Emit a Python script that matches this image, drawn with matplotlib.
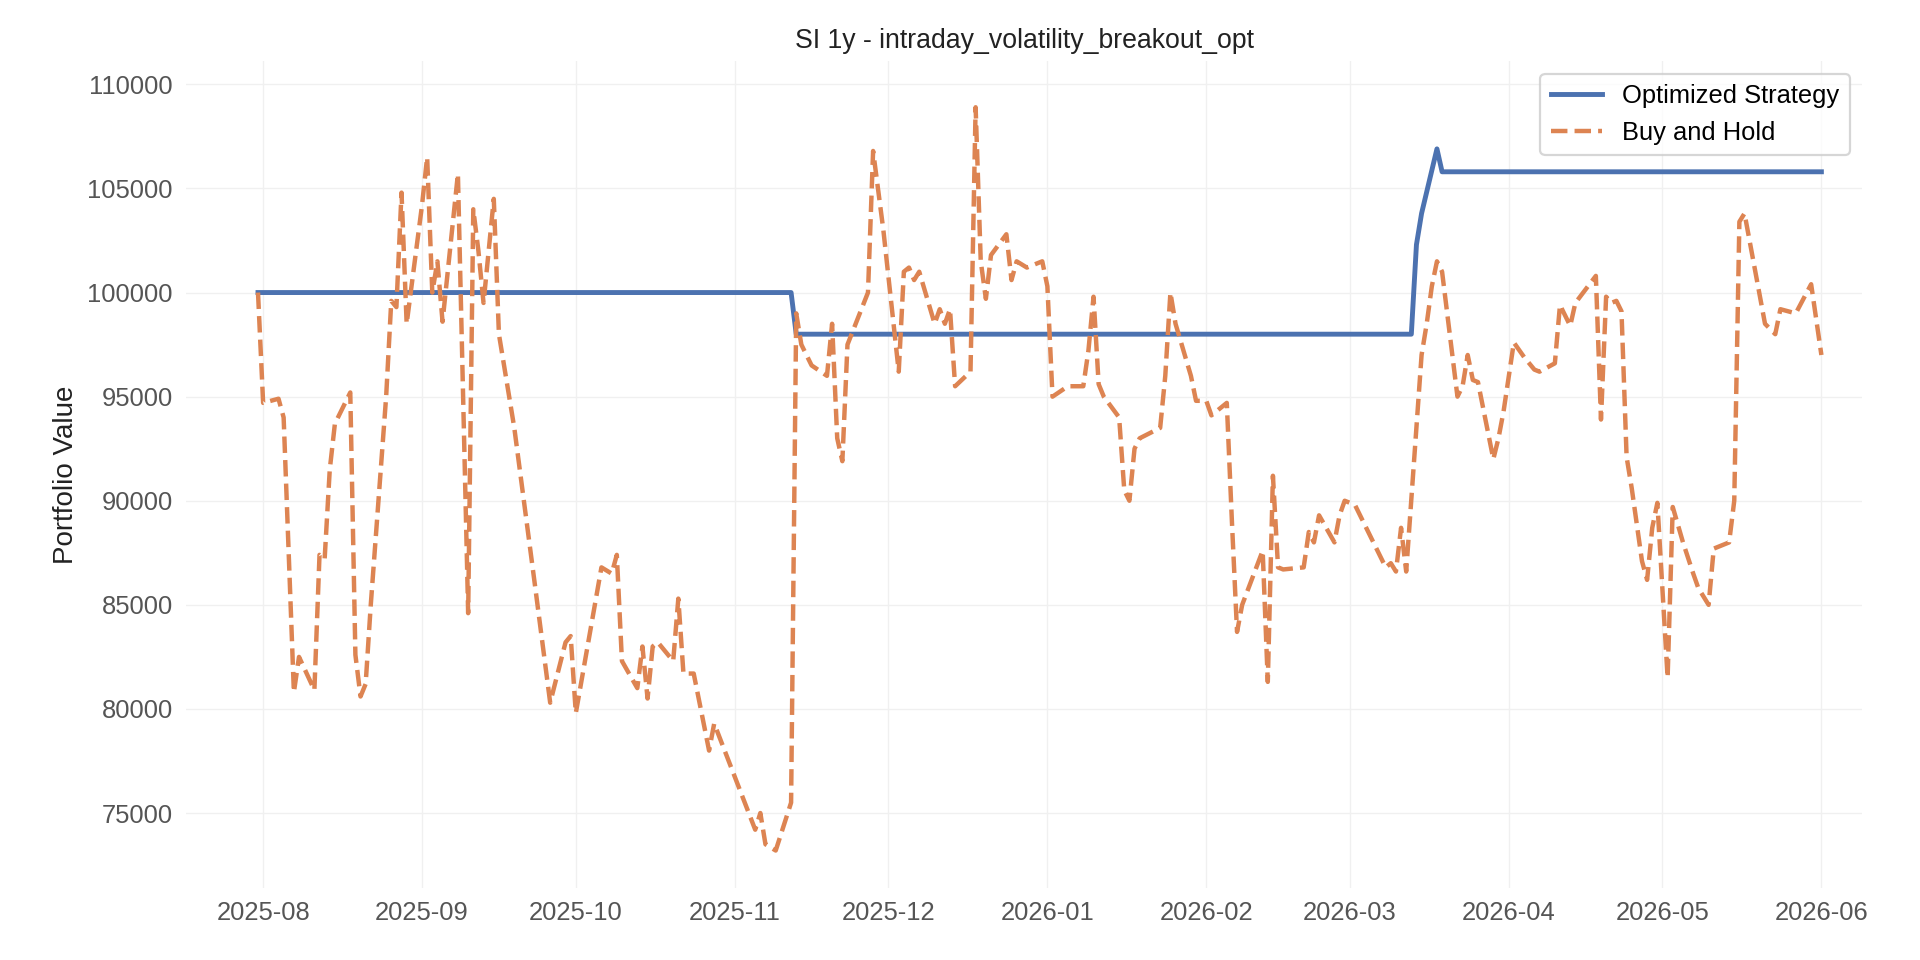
"""SI 1y - strategy vs buy and hold equity curves."""

import pandas as pd
import matplotlib.pyplot as plt
import matplotlib.dates as mdates

plt.rcParams["font.family"] = ["Liberation Sans", "DejaVu Sans"]

# Buy and hold portfolio value
bh_dates = [
    "2025-07-31", "2025-08-01", "2025-08-04", "2025-08-05", "2025-08-07", "2025-08-08",
    "2025-08-11", "2025-08-12", "2025-08-13", "2025-08-14", "2025-08-15", "2025-08-18",
    "2025-08-19", "2025-08-20", "2025-08-21", "2025-08-22", "2025-08-25", "2025-08-26",
    "2025-08-27", "2025-08-28", "2025-08-29", "2025-09-01", "2025-09-02", "2025-09-03",
    "2025-09-04", "2025-09-05", "2025-09-08", "2025-09-10", "2025-09-11", "2025-09-12",
    "2025-09-13", "2025-09-15", "2025-09-16", "2025-09-17", "2025-09-18", "2025-09-19",
    "2025-09-23", "2025-09-26", "2025-09-29", "2025-09-30", "2025-10-01", "2025-10-06",
    "2025-10-08", "2025-10-09", "2025-10-10", "2025-10-13", "2025-10-14", "2025-10-15",
    "2025-10-16", "2025-10-17", "2025-10-20", "2025-10-21", "2025-10-22", "2025-10-24",
    "2025-10-27", "2025-10-28", "2025-11-05", "2025-11-06", "2025-11-07", "2025-11-09",
    "2025-11-12", "2025-11-13", "2025-11-14", "2025-11-16", "2025-11-19", "2025-11-20",
    "2025-11-21", "2025-11-22", "2025-11-23", "2025-11-27", "2025-11-28", "2025-11-30",
    "2025-12-03", "2025-12-04", "2025-12-05", "2025-12-06", "2025-12-07", "2025-12-10",
    "2025-12-11", "2025-12-12", "2025-12-13", "2025-12-14", "2025-12-17", "2025-12-18",
    "2025-12-19", "2025-12-20", "2025-12-21", "2025-12-24", "2025-12-25", "2025-12-26",
    "2025-12-28", "2025-12-31", "2026-01-01", "2026-01-02", "2026-01-05", "2026-01-08",
    "2026-01-09", "2026-01-10", "2026-01-11", "2026-01-12", "2026-01-15", "2026-01-16",
    "2026-01-17", "2026-01-18", "2026-01-19", "2026-01-23", "2026-01-24", "2026-01-25",
    "2026-01-26", "2026-01-29", "2026-01-30", "2026-02-01", "2026-02-02", "2026-02-05",
    "2026-02-06", "2026-02-07", "2026-02-08", "2026-02-12", "2026-02-13", "2026-02-14",
    "2026-02-15", "2026-02-16", "2026-02-20", "2026-02-21", "2026-02-22", "2026-02-23",
    "2026-02-26", "2026-02-27", "2026-02-28", "2026-03-02", "2026-03-08", "2026-03-09",
    "2026-03-10", "2026-03-11", "2026-03-12", "2026-03-15", "2026-03-16", "2026-03-17",
    "2026-03-18", "2026-03-19", "2026-03-22", "2026-03-23", "2026-03-24", "2026-03-25",
    "2026-03-26", "2026-03-29", "2026-03-30", "2026-03-31", "2026-04-02", "2026-04-04",
    "2026-04-05", "2026-04-06", "2026-04-07", "2026-04-10", "2026-04-11", "2026-04-12",
    "2026-04-13", "2026-04-14", "2026-04-18", "2026-04-19", "2026-04-20", "2026-04-21",
    "2026-04-22", "2026-04-23", "2026-04-24", "2026-04-25", "2026-04-27", "2026-04-28",
    "2026-04-29", "2026-04-30", "2026-05-02", "2026-05-03", "2026-05-05", "2026-05-07",
    "2026-05-08", "2026-05-10", "2026-05-11", "2026-05-12", "2026-05-14", "2026-05-15",
    "2026-05-16", "2026-05-17", "2026-05-21", "2026-05-23", "2026-05-24", "2026-05-27",
    "2026-05-30", "2026-06-01",
]
bh_values = [
    100000, 94700, 94900, 94000, 80800, 82500,
    80900, 87400, 87200, 91500, 93700, 95200,
    82600, 80600, 81200, 85000, 95000, 99600,
    99300, 104800, 98500, 104200, 106500, 100000,
    101500, 98600, 105700, 84600, 104000, 102000,
    99500, 104500, 98000, 96500, 95000, 93500,
    86000, 80300, 83200, 83500, 79800, 86800,
    86500, 87400, 82300, 81000, 83000, 80500,
    83000, 83200, 82300, 85300, 81700, 81700,
    78000, 79300, 74200, 75000, 73500, 73200,
    75500, 99000, 97500, 96500, 96000, 98500,
    93000, 91900, 97500, 100000, 106800, 103000,
    96200, 101000, 101200, 100600, 101000, 98500,
    99200, 98500, 99200, 95500, 96200, 108900,
    101500, 99700, 101800, 102800, 100600, 101500,
    101200, 101500, 100300, 95000, 95500, 95500,
    97200, 99800, 95600, 95000, 94000, 90500,
    90000, 92500, 93000, 93500, 96000, 100000,
    98500, 96000, 94800, 94800, 94100, 94700,
    89000, 83700, 85000, 87600, 81300, 91200,
    86800, 86700, 86800, 88500, 88000, 89300,
    88000, 89300, 90000, 89800, 86800, 87000,
    86600, 88700, 86600, 97000, 98500, 100300,
    101500, 101000, 95000, 95500, 97000, 95800,
    95700, 92000, 93000, 94300, 97600, 96900,
    96600, 96300, 96200, 96600, 99400, 98900,
    98400, 99500, 100800, 93900, 99800, 99500,
    99600, 99100, 92100, 90600, 87100, 86200,
    88700, 89900, 81500, 89700, 88000, 86500,
    85800, 85000, 87700, 87800, 88000, 90000,
    103400, 103800, 98500, 98000, 99200, 99000,
    100400, 97000,
]

# Optimized strategy: flat segments with a couple of steps
strat_dates = [
    "2025-07-31", "2025-11-12", "2025-11-13", "2026-03-13", "2026-03-14",
    "2026-03-15", "2026-03-18", "2026-03-19", "2026-06-01",
]
strat_values = [100000, 100000, 98000, 98000, 102300, 103800, 106900, 105800, 105800]

TITLE = "SI 1y - intraday_volatility_breakout_opt"


def main():
    bh = pd.Series(bh_values, index=pd.to_datetime(bh_dates))
    strat = pd.Series(strat_values, index=pd.to_datetime(strat_dates))

    fig = plt.figure(figsize=(12, 6), dpi=160)
    ax = fig.add_axes([0.097, 0.075, 0.873, 0.861])
    ax.plot(strat.index, strat.values, color="#4C72B0", lw=2.2, label="Optimized Strategy")
    ax.plot(bh.index, bh.values, color="#DD8452", lw=2.0, ls="--", label="Buy and Hold")

    ax.set_title(TITLE, fontsize=12, color="#222222")
    ax.set_ylabel("Portfolio Value", fontsize=12.5, color="#222222")
    ax.set_ylim(71400, 111100)
    ax.set_xlim(pd.Timestamp("2025-07-17"), pd.Timestamp("2026-06-09"))
    ax.set_yticks(range(75000, 110001, 5000))
    ax.xaxis.set_major_locator(mdates.MonthLocator())
    ax.xaxis.set_major_formatter(mdates.DateFormatter("%Y-%m"))
    ax.tick_params(colors="#555555", labelsize=11.5, length=0, pad=6)
    ax.grid(color="#f0f0f0", lw=0.6)
    for s in ax.spines.values():
        s.set_visible(False)
    ax.legend(loc="upper right", fontsize=11.5, frameon=True, edgecolor="#cccccc")

    plt.savefig("out.png", dpi=160)


if __name__ == "__main__":
    main()
